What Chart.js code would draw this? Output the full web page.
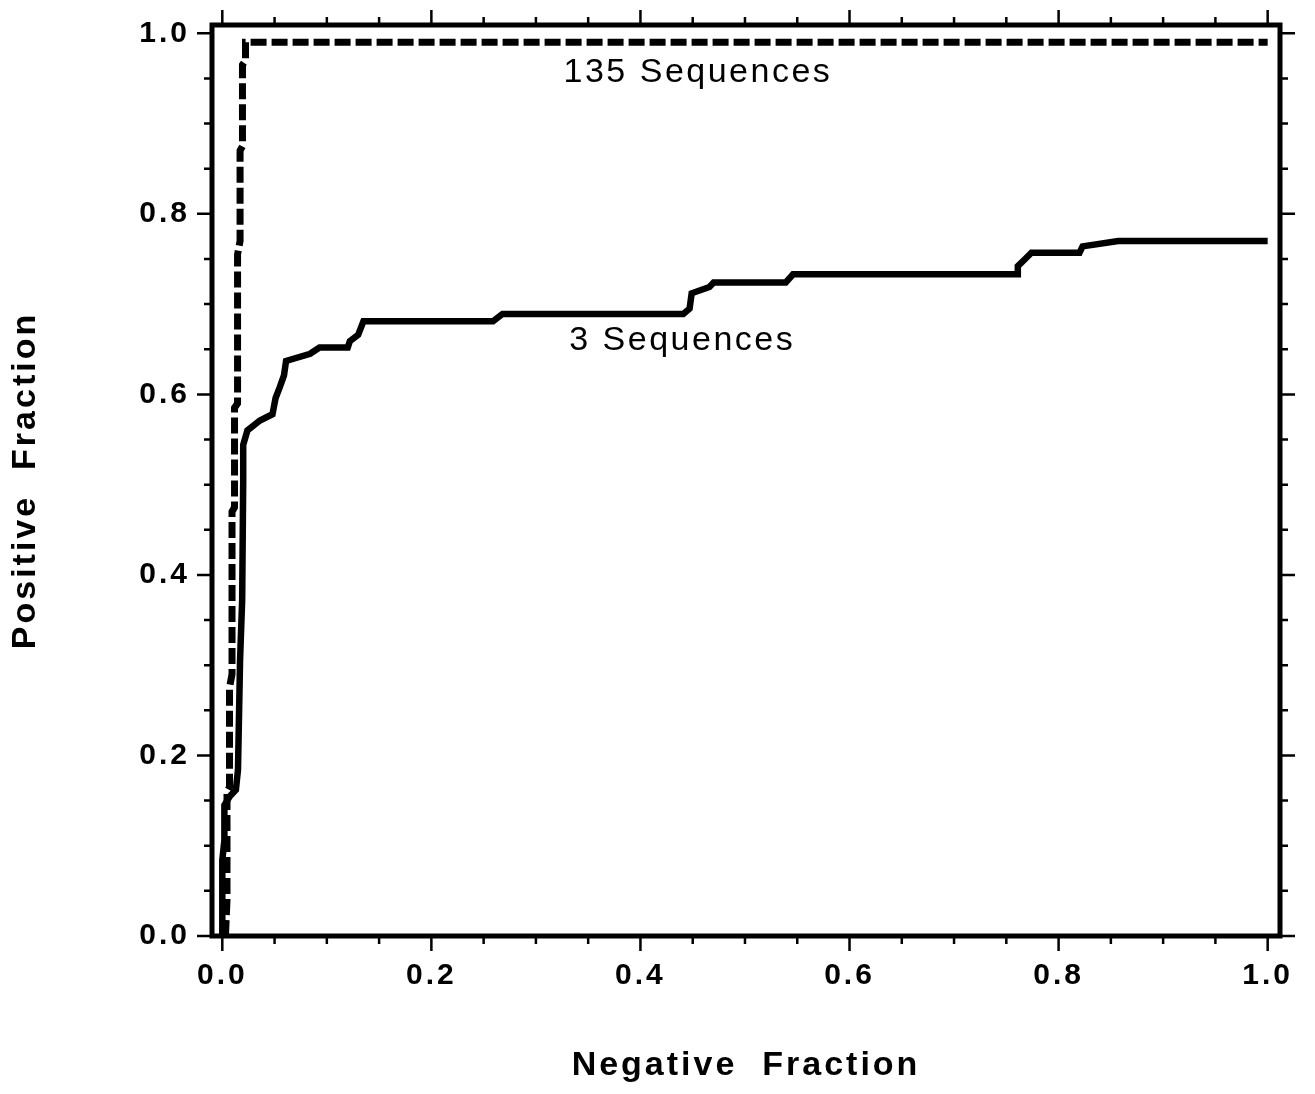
<!DOCTYPE html>
<html>
<head>
<meta charset="utf-8">
<script src="https://cdn.jsdelivr.net/npm/chart.js@4.4.1/dist/chart.umd.min.js"></script>
<style>
html, body { margin: 0; padding: 0; background: #fff; }
</style>
</head>
<body>
<canvas id="rocPlot" width="1315" height="1094"></canvas>
<script>
// 3 Sequences (solid curve)
var seq3X = [0, 0, 0.002, 0.002, 0.0074, 0.013, 0.015, 0.017, 0.019, 0.020,
             0.020, 0.024, 0.036, 0.048, 0.051, 0.055, 0.059, 0.061, 0.084, 0.093,
             0.120, 0.122, 0.130, 0.135, 0.259, 0.268, 0.441, 0.447, 0.449, 0.466,
             0.470, 0.539, 0.546, 0.761, 0.761, 0.768, 0.774, 0.820, 0.823, 0.857,
             1.0];
var seq3Y = [0, 0.084, 0.106, 0.145, 0.155, 0.162, 0.184, 0.306, 0.372, 0.505,
             0.544, 0.560, 0.571, 0.578, 0.596, 0.608, 0.621, 0.637, 0.645, 0.652,
             0.652, 0.659, 0.666, 0.681, 0.681, 0.689, 0.689, 0.695, 0.712, 0.719,
             0.724, 0.724, 0.733, 0.733, 0.742, 0.750, 0.757, 0.757, 0.764, 0.770,
             0.770];

// 135 Sequences (dashed curve)
var seq135X = [0.003, 0.0045, 0.0045, 0.0069, 0.0069, 0.0093, 0.0093, 0.0117, 0.0117,
               0.0146, 0.0146, 0.017, 0.017, 0.0193, 0.0193, 0.0222, 0.0222, 1.0];
var seq135Y = [0, 0.04, 0.16, 0.165, 0.275, 0.29, 0.47, 0.475, 0.585,
               0.59, 0.755, 0.77, 0.87, 0.875, 0.965, 0.97, 0.99, 0.99];

var majorTicks = [0, 0.2, 0.4, 0.6, 0.8, 1.0];
var minorStep = 0.05;

var curveNames = ['135 Sequences', '3 Sequences'];
var nameX = [0.455, 0.44];
var nameY = [0.956, 0.66];

var FONT = '"Liberation Sans", Arial, Helvetica, sans-serif';

function toPoints(xs, ys) {
    return xs.map(function (x, i) { return { x: x, y: ys[i] }; });
}

var frameAndTicks = {
    id: 'frameAndTicks',
    beforeDraw: function (chart) {
        chart.ctx.letterSpacing = '3px';
    },
    afterDraw: function (chart) {
        var ctx = chart.ctx;
        var a = chart.chartArea;
        var xs = chart.scales.x;
        var ys = chart.scales.y;
        ctx.save();
        ctx.strokeStyle = '#000';
        ctx.lineWidth = 2.5;
        for (var i = 0; i <= 20; i++) {
            var v = i * minorStep;
            var len = (i % 4 === 0) ? 15 : 8;
            var px = xs.getPixelForValue(v);
            var py = ys.getPixelForValue(v);
            ctx.beginPath();
            ctx.moveTo(px, a.bottom); ctx.lineTo(px, a.bottom + len);
            ctx.moveTo(px, a.top); ctx.lineTo(px, a.top - len);
            ctx.moveTo(a.left, py); ctx.lineTo(a.left - len, py);
            ctx.moveTo(a.right, py); ctx.lineTo(a.right + len, py);
            ctx.stroke();
        }
        ctx.lineWidth = 5;
        ctx.strokeRect(a.left, a.top, a.right - a.left, a.bottom - a.top);

        ctx.fillStyle = '#000';
        ctx.font = '34px ' + FONT;
        ctx.letterSpacing = '2.5px';
        ctx.textAlign = 'center';
        ctx.textBaseline = 'middle';
        for (var k = 0; k < curveNames.length; k++) {
            ctx.fillText(curveNames[k], xs.getPixelForValue(nameX[k]), ys.getPixelForValue(nameY[k]));
        }
        ctx.restore();
    }
};

var tickFont = { family: FONT, size: 30, weight: 'bold' };
var titleFont = { family: FONT, size: 34, weight: 'bold' };

var ctx = document.getElementById('rocPlot').getContext('2d');
var rocChart = new Chart(ctx, {
    type: 'scatter',
    data: {
        datasets: [{
            label: '135 Sequences',
            data: toPoints(seq135X, seq135Y),
            showLine: true,
            borderColor: '#000',
            borderWidth: 7,
            borderDash: [16, 5],
            pointRadius: 0,
            tension: 0,
            fill: false
        }, {
            label: '3 Sequences',
            data: toPoints(seq3X, seq3Y),
            showLine: true,
            borderColor: '#000',
            borderWidth: 6.5,
            borderJoinStyle: 'miter',
            pointRadius: 0,
            tension: 0,
            fill: false
        }]
    },
    options: {
        responsive: false,
        animation: false,
        layout: { padding: { top: 25, right: 35, bottom: 0, left: 0 } },
        plugins: {
            legend: { display: false },
            tooltip: { enabled: false }
        },
        scales: {
            x: {
                type: 'linear',
                position: 'bottom',
                min: -0.00985,
                max: 1.0118,
                afterBuildTicks: function (s) {
                    s.ticks = majorTicks.map(function (v) { return { value: v }; });
                },
                afterFit: function (s) {
                    s.height = 158;
                    s.paddingLeft = 0;
                    s.paddingRight = 0;
                },
                grid: { display: false, drawTicks: false },
                border: { display: false },
                ticks: {
                    color: '#000',
                    font: tickFont,
                    padding: 22,
                    maxRotation: 0,
                    autoSkip: false,
                    callback: function (v) { return v.toFixed(1); }
                },
                title: {
                    display: true,
                    text: 'Negative  Fraction',
                    color: '#000',
                    font: titleFont,
                    padding: { top: 0, bottom: 8 }
                }
            },
            y: {
                type: 'linear',
                min: 0,
                max: 1.0092,
                afterBuildTicks: function (s) {
                    s.ticks = majorTicks.map(function (v) { return { value: v }; });
                },
                afterFit: function (s) {
                    s.width = 212;
                    s.paddingTop = 0;
                    s.paddingBottom = 0;
                },
                grid: { display: false, drawTicks: false },
                border: { display: false },
                ticks: {
                    color: '#000',
                    font: tickFont,
                    padding: 22,
                    autoSkip: false,
                    callback: function (v) { return v.toFixed(1); }
                },
                title: {
                    display: true,
                    text: 'Positive  Fraction',
                    color: '#000',
                    font: titleFont,
                    padding: { top: 5, bottom: 0 }
                }
            }
        }
    },
    plugins: [frameAndTicks]
});
</script>
</body>
</html>
